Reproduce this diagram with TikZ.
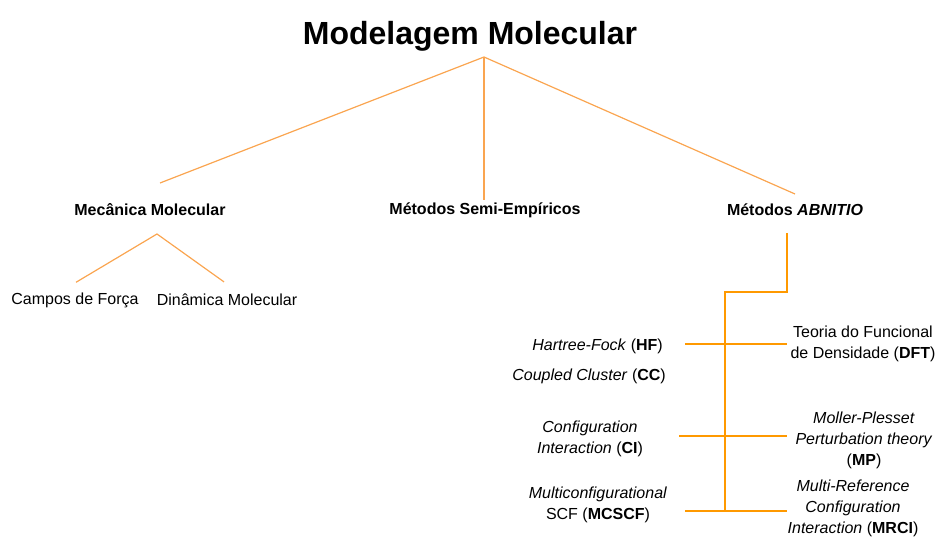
\documentclass[tikz,border=0pt]{standalone}
\usepackage{fontspec}
\setmainfont{Liberation Sans}
\usetikzlibrary{calc}

\definecolor{laranjaclaro}{RGB}{250,165,80}
\definecolor{laranja}{RGB}{255,153,0}

\begin{document}
\begin{tikzpicture}[x=1pt, y=1pt,
  titulo/.style = {font=\fontsize{32}{38}\selectfont\bfseries, inner sep=0pt},
  metodo/.style = {font=\fontsize{16}{21}\selectfont\bfseries, inner sep=0pt},
  rotulo/.style = {font=\fontsize{16}{21}\selectfont, inner sep=0pt, align=center},
  linha/.style  = {laranjaclaro, line width=1.2pt},
  ramo/.style   = {laranja, line width=2pt}]
  \useasboundingbox (0,0) rectangle (939,536);

  % Titulo
  \node[titulo] (modelagem) at (470,500) {Modelagem Molecular};
  \coordinate (topo) at (484,479);

  % Os tres grupos de metodos
  \node[metodo] (mecanica) at (150,326) {Mecânica Molecular};
  \node[metodo] (semi) at (485,326) {Métodos Semi-Empíricos};
  \node[metodo] (abinitio) at (795,326) {Métodos \textit{ABNITIO}};

  \coordinate (mecanica-in) at (160,353);
  \coordinate (semi-in) at (484,336);
  \coordinate (abinitio-in) at (795,342);

  \draw[linha] (mecanica-in) -- (topo) -- (abinitio-in);
  \draw[linha] (topo) -- (semi-in);

  % Mecanica Molecular
  \node[rotulo] (campos) at (75,236) {Campos de Força};
  \node[rotulo] (dinamica) at (227,236) {Dinâmica Molecular};

  \coordinate (mecanica-out) at (157,302);
  \draw[linha] ($(campos.north)+(1,10)$) -- (mecanica-out) -- ($(dinamica.north)+(-3,12)$);

  % Metodos ab initio: lado esquerdo
  \node[rotulo, anchor=east] (hf) at (663,190) {\textit{Hartree-Fock} (\textbf{HF})};
  \node[rotulo, anchor=east] (cc) at (666,160) {\textit{Coupled Cluster} (\textbf{CC})};
  \node[rotulo] (ci) at (590,97) {\textit{Configuration}\\\textit{Interaction} (\textbf{CI})};
  \node[rotulo] (mcscf) at (598,31.5) {\textit{Multiconfigurational}\\SCF (\textbf{MCSCF})};

  % Metodos ab initio: lado direito
  \node[rotulo] (dft) at (863,192) {Teoria do Funcional\\de Densidade (\textbf{DFT})};
  \node[rotulo] (mp) at (864,96) {\textit{Moller-Plesset}\\\textit{Perturbation theory}\\(\textbf{MP})};
  \node[rotulo] (mrci) at (853,27.5) {\textit{Multi-Reference}\\\textit{Configuration}\\\textit{Interaction} (\textbf{MRCI})};

  % Ramos
  \coordinate (abinitio-out) at (787,303);
  \coordinate (canto) at (787,244);
  \coordinate (juncao) at (725,244);
  \coordinate (fim) at (725,25);

  \draw[ramo] (abinitio-out) -- (canto) -- (juncao) -- (fim);
  \draw[ramo] (685,192) coordinate (hf-out) -- (hf-out -| canto) coordinate (dft-in);
  \draw[ramo] (679,100) coordinate (ci-out) -- (ci-out -| canto) coordinate (mp-in);
  \draw[ramo] (685,25) coordinate (mcscf-out) -- (mcscf-out -| canto) coordinate (mrci-in);
\end{tikzpicture}
\end{document}
